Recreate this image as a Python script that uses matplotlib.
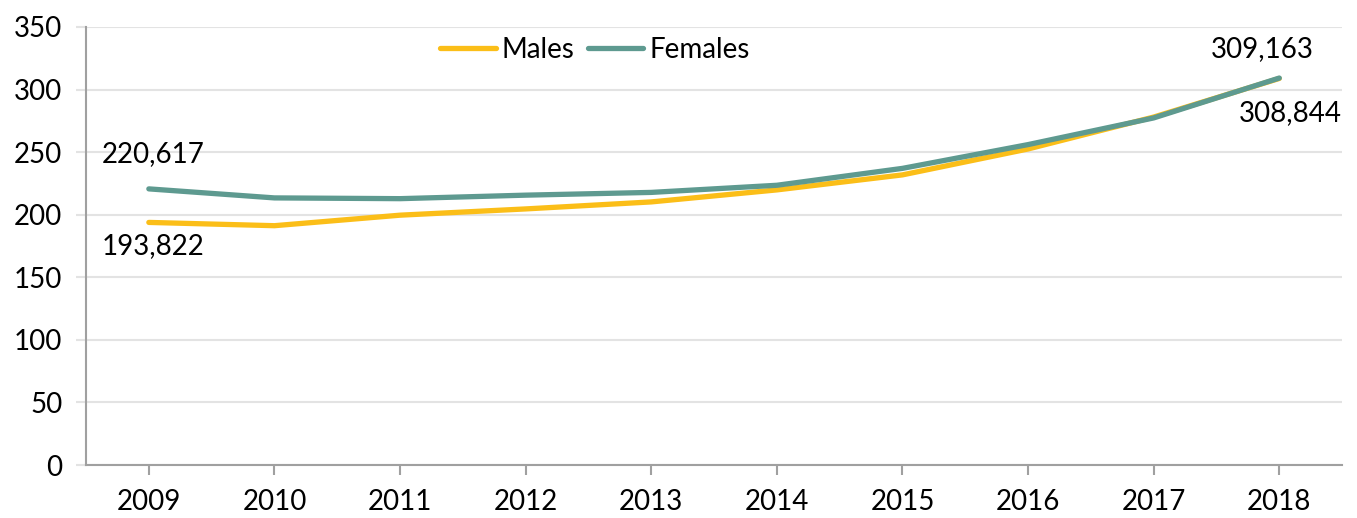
import matplotlib.pyplot as plt
import numpy as np

plt.rcParams['font.family'] = ['Lato', 'DejaVu Sans']

years = ['2009', '2010', '2011', '2012', '2013', '2014', '2015', '2016', '2017', '2018']
males = [193.822, 191.2, 199.6, 204.6, 210.2, 219.8, 231.8, 252.5, 278.0, 308.844]
females = [220.617, 213.4, 212.8, 215.6, 217.8, 223.5, 237.0, 256.0, 277.3, 309.163]

fig = plt.figure(figsize=(13.57, 5.18), dpi=100)
ax = fig.add_axes([0.0634, 0.1023, 0.9256, 0.8457])

x = np.arange(len(years))
ax.plot(x, males, color='#FBBE18', lw=3.8, label='Males', solid_capstyle='round')
ax.plot(x, females, color='#5E9A90', lw=3.8, label='Females', solid_capstyle='round')

ax.set_xlim(-0.5, 9.5)
ax.set_ylim(0, 350)
ax.set_yticks(range(0, 351, 50))
ax.set_xticks(x)
ax.set_xticklabels(years)
ax.grid(axis='y', color='#E3E3E3', lw=1.5)
ax.set_axisbelow(True)
for s in ['top', 'right']:
    ax.spines[s].set_visible(False)
for s in ['left', 'bottom']:
    ax.spines[s].set_color('#A0A0A0')
    ax.spines[s].set_linewidth(1.5)
fs = 20
ax.tick_params(axis='y', length=7, color='#E3E3E3', width=1.5, labelsize=fs, pad=10)
ax.tick_params(axis='x', length=7, color='#A0A0A0', width=1.5, labelsize=fs, pad=10)

ax.annotate('220,617', (0, females[0]), xytext=(3, 25), textcoords='offset points',
            ha='center', va='center', fontsize=fs)
ax.annotate('193,822', (0, males[0]), xytext=(3, -17), textcoords='offset points',
            ha='center', va='center', fontsize=fs)
ax.annotate('309,163', (9, females[-1]), xytext=(-12, 21), textcoords='offset points',
            ha='center', va='center', fontsize=fs)
ax.annotate('308,844', (9, males[-1]), xytext=(8, -25), textcoords='offset points',
            ha='center', va='center', fontsize=fs)

ax.legend(loc='upper center', bbox_to_anchor=(0.405, 1.035), ncol=2, frameon=False,
          fontsize=fs, handlelength=2.0, handletextpad=0.2, columnspacing=0.5)

fig.savefig('out.png', dpi=100)
